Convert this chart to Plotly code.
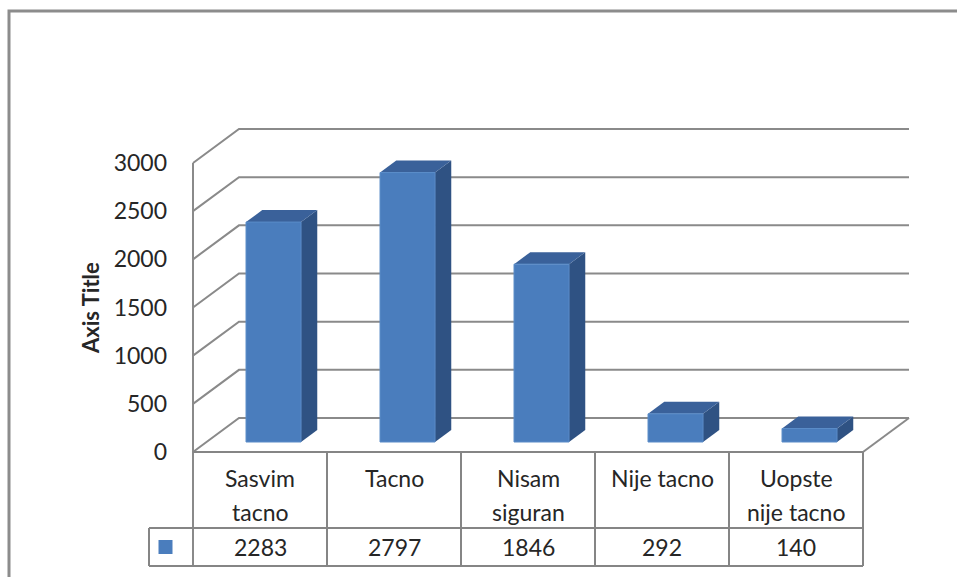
import plotly.graph_objects as go

# ---- data -------------------------------------------------------------
categories = ["Sasvim tacno", "Tacno", "Nisam siguran", "Nije tacno", "Uopste nije tacno"]
category_labels = ["Sasvim<br>tacno", "Tacno", "Nisam<br>siguran", "Nije tacno", "Uopste<br>nije tacno"]
values = [2283, 2797, 1846, 292, 140]
y_ticks = [0, 500, 1000, 1500, 2000, 2500, 3000]
axis_title = "Axis Title"

# ---- page geometry (pixels) -------------------------------------------
W, H = 957, 577
X0_PX = 193          # left edge of the category area
CAT_PX = 134         # width of one category column
ZERO_PX = 452        # front-plane zero line, from top
TOP_PX = 163         # front-plane 3000 line, from top
UNIT_PX = (ZERO_PX - TOP_PX) / 3000.0

# 3-D depth vector of the floor/walls, in axis units
DEPTH_X = 46 / CAT_PX
DEPTH_Y = 34 / UNIT_PX
BAR_F1, BAR_F2 = 10 / 34, 22 / 34   # bar front/back position inside the depth
BAR_W = 55 / CAT_PX


def ypx(p):
    """Pixel row (from top) -> y axis value."""
    return (ZERO_PX - p) / UNIT_PX


def xpx(p):
    """Pixel column -> x axis value."""
    return (p - X0_PX) / CAT_PX


x_range = [xpx(0), xpx(W)]
y_range = [ypx(H), ypx(0)]

FRONT = "#4a7dbd"
TOP = "#3a619a"
SIDE = "#2f5283"
GRID = "#8a8a8a"
TABLE = "#858585"
TEXT = "#262626"
FONT = "Lato"

fig = go.Figure()


def poly(xs, ys, fill, line_color=None, width=0):
    fig.add_trace(go.Scatter(
        x=xs + [xs[0]], y=ys + [ys[0]], mode="lines", fill="toself",
        fillcolor=fill, line=dict(color=line_color or fill, width=width),
        hoverinfo="skip", showlegend=False))


def line(xs, ys, color, width):
    fig.add_trace(go.Scatter(
        x=xs, y=ys, mode="lines", line=dict(color=color, width=width),
        hoverinfo="skip", showlegend=False))


# walls: side-wall diagonals and back-wall gridlines
for v in y_ticks:
    line([0, DEPTH_X, 5 + DEPTH_X], [v, v + DEPTH_Y, v + DEPTH_Y], GRID, 2)
# floor right edge
line([5, 5 + DEPTH_X], [0, DEPTH_Y], GRID, 2)

# 3-D columns
for i, v in enumerate(values):
    cx = i + 0.5
    fx0 = cx - BAR_W / 2 + BAR_F1 * DEPTH_X
    fx1 = cx + BAR_W / 2 + BAR_F1 * DEPTH_X
    fy0 = BAR_F1 * DEPTH_Y
    fy1 = v + BAR_F1 * DEPTH_Y
    ddx = (BAR_F2 - BAR_F1) * DEPTH_X
    ddy = (BAR_F2 - BAR_F1) * DEPTH_Y
    # side face
    poly([fx1, fx1 + ddx, fx1 + ddx, fx1], [fy0, fy0 + ddy, fy1 + ddy, fy1], SIDE)
    # top face
    poly([fx0, fx1, fx1 + ddx, fx0 + ddx], [fy1, fy1, fy1 + ddy, fy1 + ddy], TOP)
    # front face
    poly([fx0, fx1, fx1, fx0], [fy0, fy0, fy1, fy1], FRONT, "#5a8cc8", 1)

# ---- data table -------------------------------------------------------
ROW1_TOP, ROW2_TOP, ROW2_BOT = ZERO_PX, 528, 566
KEY_LEFT = 149
line([0, 0], [ypx(TOP_PX), ypx(ROW2_BOT)], GRID, 2)
line([0, 5], [ypx(ROW1_TOP), ypx(ROW1_TOP)], TABLE, 2)
for yy in (ROW2_TOP, ROW2_BOT):
    line([xpx(KEY_LEFT), 5], [ypx(yy), ypx(yy)], TABLE, 2)
line([xpx(KEY_LEFT), xpx(KEY_LEFT)], [ypx(ROW2_TOP), ypx(ROW2_BOT)], TABLE, 2)
for k in range(1, 6):
    line([k, k], [ypx(ROW1_TOP), ypx(ROW2_BOT)], TABLE, 2)

# legend key of the series
fig.add_trace(go.Scatter(
    x=[xpx(165.5)], y=[ypx(547)], mode="markers",
    marker=dict(symbol="square", size=14, color=FRONT),
    hoverinfo="skip", showlegend=False))

annotations = []
for i, lab in enumerate(category_labels):
    for j, part in enumerate(lab.split("<br>")):
        annotations.append(dict(
            x=i + 0.5, y=ypx(478 + 34 * j), xref="x", yref="y", text=part,
            showarrow=False, font=dict(family=FONT, size=23, color=TEXT),
            xanchor="center", yanchor="middle"))
    annotations.append(dict(
        x=i + 0.5, y=ypx(547), xref="x", yref="y", text=str(values[i]),
        showarrow=False, font=dict(family=FONT, size=23, color=TEXT),
        xanchor="center", yanchor="middle"))

annotations.append(dict(
    x=xpx(90), y=ypx(308), xref="x", yref="y", text="<b>" + axis_title + "</b>",
    textangle=-90, showarrow=False,
    font=dict(family=FONT, size=22, color=TEXT),
    xanchor="center", yanchor="middle"))

# outer chart frame
shapes = [dict(type="rect", xref="paper", yref="paper",
               x0=9 / W, x1=1.02, y0=-0.05, y1=1 - 11 / H,
               line=dict(color="#8c8c8c", width=3), layer="above")]

fig.update_layout(
    width=W, height=H,
    margin=dict(l=0, r=0, t=0, b=0),
    paper_bgcolor="white", plot_bgcolor="white",
    xaxis=dict(range=x_range, visible=False, domain=[0, 1], fixedrange=True),
    yaxis=dict(range=y_range, tickvals=y_ticks, ticktext=[str(v) for v in y_ticks],
               showgrid=False, zeroline=False, showline=False,
               anchor="free", position=X0_PX / W, side="left",
               ticks="", ticklabelstandoff=26,
               tickfont=dict(family=FONT, size=23, color=TEXT),
               domain=[0, 1], fixedrange=True),
    annotations=annotations,
    shapes=shapes,
    showlegend=False,
)

fig.write_html("out.html")
